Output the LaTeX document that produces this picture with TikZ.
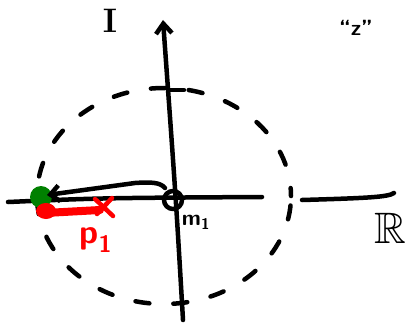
\documentclass[tikz,border=0pt]{standalone}
\usepackage{amssymb}
\usetikzlibrary{arrows.meta}
\begin{document}
\begin{tikzpicture}[x=1pt,y=-1pt,line cap=round,line join=round,
  penblack/.style={line width=4.5pt,black},
  penred/.style={line width=4.5pt,red},
  lbl/.style={inner sep=0pt,font=\sffamily\bfseries}]
\useasboundingbox (0,0) rectangle (406,329);
% axes
\coordinate (vb) at (183,320);
\coordinate (vt) at (163,20);
\coordinate (hl) at (8,202);
\coordinate (hr) at (262,197);
\coordinate (rl) at (302,200);
\coordinate (rr) at (394,193);
\coordinate (tl) at (170,90);
\coordinate (tr) at (184,90);
\draw[penblack,-{Straight Barb[length=10pt,width=16pt]}] (vb) .. controls (176,200) .. (vt);
\draw[penblack] (hl) .. controls (100,198) .. (hr);
\draw[penblack] (rl) .. controls (370,198) and (388,197) .. (rr);
\draw[penblack] (tl) -- (tr);
% dashed circle
\coordinate (c) at (164,196);
\draw[penblack,dash pattern=on 14pt off 24pt,dash phase=6pt] (c) ellipse [x radius=127pt,y radius=108pt];
% origin loop
\node[circle,draw,line width=4.5pt,minimum size=18pt,inner sep=0pt] (o) at (173,200) {};
\node[lbl,font=\sffamily\bfseries\fontsize{22}{22}\selectfont] (m) at (196,222) {m\textsubscript{1}};
% green and red blobs
\fill[green!50!black] (41,197) circle (11pt);
\coordinate (rs) at (100,210);
\coordinate (re) at (45,213);
\draw[red,line width=8pt] (rs) -- (re);
\fill[red] (46,211) ellipse [x radius=10pt,y radius=8pt];
\coordinate (x1) at (95,199);
\coordinate (x2) at (113,216);
\coordinate (x3) at (112,198);
\coordinate (x4) at (97,214);
\draw[penred] (x1) -- (x2);
\draw[penred] (x3) -- (x4);
% black arrow
\coordinate (as) at (165,188);
\coordinate (at) at (47,195);
\draw[penblack,-{Straight Barb[length=9pt,width=16pt]}] (as) .. controls (160,182) and (150,182) .. (135,183) -- (at);
% labels
\node[lbl,text=red,font=\sffamily\bfseries\fontsize{34}{34}\selectfont] (p) at (96,240) {p\textsubscript{1}};
\node[inner sep=0pt,font=\bfseries\fontsize{34}{34}\selectfont] (I) at (110,21) {I};
\node[inner sep=0pt,font=\fontsize{44}{44}\selectfont] (R) at (390,228) {$\mathbb{R}$};
\node[lbl,font=\sffamily\bfseries\fontsize{22}{22}\selectfont] (z) at (356,28) {``z''};
\end{tikzpicture}
\end{document}
